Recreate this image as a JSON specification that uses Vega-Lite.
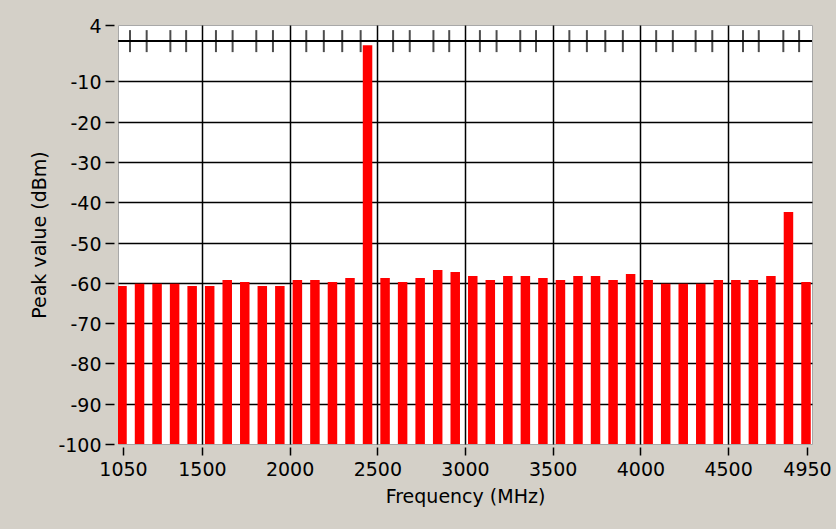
{
  "$schema": "https://vega.github.io/schema/vega-lite/v6.json",
  "width": 694,
  "height": 419,
  "autosize": {"type": "none"},
  "padding": {"left": 118, "top": 25, "right": 24, "bottom": 85},
  "background": "#D4D0C8",
  "config": {
    "view": {"fill": "#FFFFFF", "stroke": "#A8A8A8", "strokeWidth": 1},
    "font": "DejaVu Sans"
  },
  "datasets": {
    "bars": [
      {"freq": 1050, "peak": -60.8}, {"freq": 1150, "peak": -60.2}, {"freq": 1250, "peak": -60.2},
      {"freq": 1350, "peak": -60.2}, {"freq": 1450, "peak": -60.8}, {"freq": 1550, "peak": -60.8},
      {"freq": 1650, "peak": -59.3}, {"freq": 1750, "peak": -59.8}, {"freq": 1850, "peak": -60.8},
      {"freq": 1950, "peak": -60.8}, {"freq": 2050, "peak": -59.3}, {"freq": 2150, "peak": -59.3},
      {"freq": 2250, "peak": -59.8}, {"freq": 2350, "peak": -58.8}, {"freq": 2450, "peak": -1.0},
      {"freq": 2550, "peak": -58.8}, {"freq": 2650, "peak": -59.8}, {"freq": 2750, "peak": -58.8},
      {"freq": 2850, "peak": -56.8}, {"freq": 2950, "peak": -57.3}, {"freq": 3050, "peak": -58.3},
      {"freq": 3150, "peak": -59.3}, {"freq": 3250, "peak": -58.3}, {"freq": 3350, "peak": -58.3},
      {"freq": 3450, "peak": -58.8}, {"freq": 3550, "peak": -59.3}, {"freq": 3650, "peak": -58.3},
      {"freq": 3750, "peak": -58.3}, {"freq": 3850, "peak": -59.3}, {"freq": 3950, "peak": -57.8},
      {"freq": 4050, "peak": -59.3}, {"freq": 4150, "peak": -60.2}, {"freq": 4250, "peak": -60.2},
      {"freq": 4350, "peak": -60.2}, {"freq": 4450, "peak": -59.3}, {"freq": 4550, "peak": -59.3},
      {"freq": 4650, "peak": -59.3}, {"freq": 4750, "peak": -58.3}, {"freq": 4850, "peak": -42.4},
      {"freq": 4950, "peak": -59.8}
    ],
    "marks": [
      {"freq": 1090}, {"freq": 1185}, {"freq": 1320}, {"freq": 1410},
      {"freq": 1580}, {"freq": 1675}, {"freq": 1810}, {"freq": 1905},
      {"freq": 2095}, {"freq": 2195}, {"freq": 2300}, {"freq": 2405},
      {"freq": 2590}, {"freq": 2685}, {"freq": 2820}, {"freq": 2910},
      {"freq": 3085}, {"freq": 3180}, {"freq": 3315}, {"freq": 3405},
      {"freq": 3595}, {"freq": 3695}, {"freq": 3800}, {"freq": 3900},
      {"freq": 4090}, {"freq": 4185}, {"freq": 4315}, {"freq": 4410},
      {"freq": 4585}, {"freq": 4675}, {"freq": 4815}, {"freq": 4905}
    ]
  },
  "layer": [
    {
      "data": {"name": "bars"},
      "mark": {"type": "bar", "color": "#FF0000", "width": 9.5, "clip": true, "xOffset": -1},
      "encoding": {
        "x": {
          "field": "freq", "type": "quantitative",
          "scale": {"domain": [1050, 4950], "nice": false, "zero": false},
          "axis": {
            "values": [1050, 1500, 2000, 2500, 3000, 3500, 4000, 4500, 4950],
            "labelExpr": "'' + datum.value",
            "title": "Frequency (MHz)",
            "grid": true,
            "gridColor": {"condition": {"test": "datum.value == 1050 || datum.value == 4950", "value": "transparent"}, "value": "#000000"},
            "gridWidth": 1.5,
            "domain": false,
            "tickColor": "#000000", "tickSize": 8, "tickWidth": 1.5,
            "offset": 3,
            "labelFontSize": 19, "labelColor": "#000000", "labelPadding": 5,
            "labelFlush": false, "labelOverlap": false,
            "titleFontSize": 19, "titleFontWeight": "normal", "titleColor": "#000000", "titlePadding": 8
          }
        },
        "y": {
          "field": "peak", "type": "quantitative",
          "scale": {"domain": [-100, 4], "nice": false, "zero": false},
          "axis": {
            "values": [4, -10, -20, -30, -40, -50, -60, -70, -80, -90, -100],
            "labelExpr": "'' + datum.value",
            "title": "Peak value (dBm)",
            "grid": true,
            "gridColor": {"condition": {"test": "datum.value == 4 || datum.value == -100", "value": "transparent"}, "value": "#000000"},
            "gridWidth": 1.5,
            "domain": false,
            "tickColor": "#000000", "tickSize": 9, "tickWidth": 1.5,
            "offset": 4,
            "labelFontSize": 19, "labelColor": "#000000", "labelPadding": 4, "labelOffset": 1.5,
            "labelFlush": false, "labelOverlap": false,
            "titleFontSize": 19, "titleFontWeight": "normal", "titleColor": "#000000", "titlePadding": 8
          }
        },
        "y2": {"datum": -100}
      }
    },
    {
      "data": {"values": [{}]},
      "mark": {"type": "rule", "color": "#000000", "strokeWidth": 2},
      "encoding": {"y": {"datum": 0}}
    },
    {
      "data": {"name": "marks"},
      "mark": {"type": "tick", "orient": "vertical", "color": "#000000", "size": 22, "thickness": 2},
      "encoding": {
        "x": {"field": "freq", "type": "quantitative"},
        "y": {"datum": 0}
      }
    }
  ]
}
